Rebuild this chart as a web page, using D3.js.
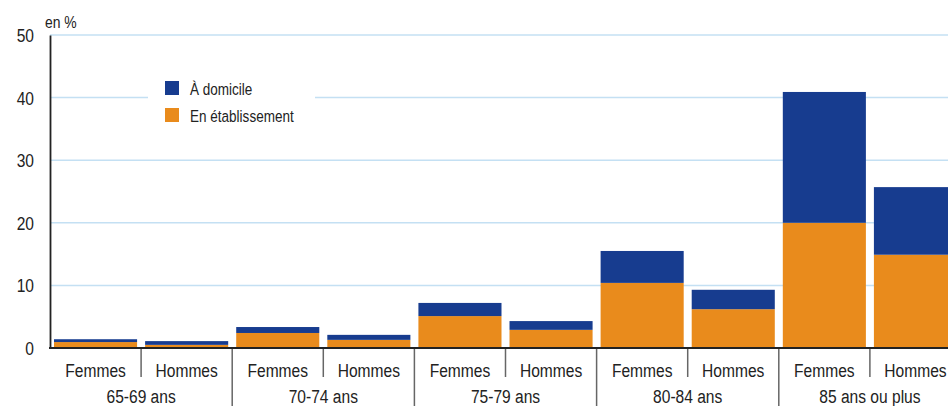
<!DOCTYPE html>
<html>
<head>
<meta charset="utf-8">
<script src="https://cdn.jsdelivr.net/npm/d3@7"></script>
<style>
  body { margin: 0; background: #fff; }
  svg { display: block; font-family: "Liberation Sans", Arial, sans-serif; }
</style>
</head>
<body>
<svg id="chart" width="948" height="406"></svg>
<script>
const groups = ["65-69 ans", "70-74 ans", "75-79 ans", "80-84 ans", "85 ans ou plus"];
const sexes = ["Femmes", "Hommes"];
// valeurs en %, ordre : groupe puis sexe
const etablissement = [0.95, 0.5, 2.4, 1.3, 5.1, 2.9, 10.4, 6.2, 20.0, 14.9];
const domicile = [0.45, 0.6, 0.95, 0.8, 2.1, 1.4, 5.1, 3.1, 20.9, 10.8];
const yTicks = [0, 10, 20, 30, 40, 50];

const colors = { domicile: "#173c8f", etab: "#e98b1c" };
const narrow = 0.82; // horizontal squeeze to mimic a condensed face

const data = [];
groups.forEach((g, i) => {
  sexes.forEach((s, j) => {
    const k = i * 2 + j;
    data.push({ key: g + "|" + s, group: g, sex: s, etab: etablissement[k], dom: domicile[k] });
  });
});

const config = {
  left: 50,
  top: 35,
  bottom: 348,
  groupWidth: 182.2
};

const svg = d3.select("#chart");

// condensed text helper
const label = (sel, x, y) =>
  sel.attr("transform", d => `translate(${typeof x === "function" ? x(d) : x},${y}) scale(${narrow},1)`);

const x = d3.scaleBand()
  .domain(data.map(d => d.key))
  .range([config.left, config.left + config.groupWidth * groups.length])
  .paddingInner(0.088)
  .paddingOuter(0.044);

const xGroup = d3.scaleBand()
  .domain(groups)
  .range([config.left, config.left + config.groupWidth * groups.length]);

const y = d3.scaleLinear().domain([0, 50]).range([config.bottom, config.top]);

// gridlines
svg.append("g")
  .selectAll("line")
  .data(yTicks.filter(d => d > 0))
  .join("line")
  .attr("x1", config.left)
  .attr("x2", 948)
  .attr("y1", d => y(d))
  .attr("y2", d => y(d))
  .attr("stroke", "#c4e0f3")
  .attr("stroke-width", 1.5);

// legend box (hides gridline)
const legend = svg.append("g");
legend.append("rect")
  .attr("x", 148).attr("y", 70).attr("width", 167).attr("height", 62)
  .attr("fill", "#fff");
const legendItems = [
  { label: "À domicile", color: colors.domicile },
  { label: "En établissement", color: colors.etab }
];
legendItems.forEach((d, i) => {
  legend.append("rect")
    .attr("x", 165).attr("y", 81 + i * 27)
    .attr("width", 14).attr("height", 14)
    .attr("fill", d.color);
  legend.append("text")
    .call(label, 190, 95 + i * 27)
    .attr("font-size", 16.5)
    .attr("fill", "#222")
    .text(d.label);
});

// bars
const bars = svg.append("g");
bars.selectAll("rect.etab")
  .data(data)
  .join("rect")
  .attr("class", "etab")
  .attr("x", d => x(d.key))
  .attr("width", x.bandwidth())
  .attr("y", d => y(d.etab))
  .attr("height", d => y(0) - y(d.etab))
  .attr("fill", colors.etab);
bars.selectAll("rect.dom")
  .data(data)
  .join("rect")
  .attr("class", "dom")
  .attr("x", d => x(d.key))
  .attr("width", x.bandwidth())
  .attr("y", d => y(d.etab + d.dom))
  .attr("height", d => y(d.etab) - y(d.etab + d.dom))
  .attr("fill", colors.domicile);

// y axis
const yAxis = d3.axisLeft(y).tickValues(yTicks).tickSize(0).tickPadding(16);
const gy = svg.append("g")
  .attr("transform", `translate(${config.left},0)`)
  .call(yAxis);
gy.select(".domain").attr("stroke", "#222").attr("stroke-width", 1.8);
gy.selectAll(".tick text")
  .attr("font-size", 19)
  .attr("font-family", "Liberation Sans, Arial, sans-serif")
  .attr("fill", "#222")
  .attr("x", -16 / narrow)
  .attr("dy", "0.34em")
  .attr("transform", `scale(${narrow},1)`);

svg.append("text")
  .call(label, 45, 28)
  .attr("font-size", 17)
  .attr("fill", "#222")
  .text("en %");

// x axis: sub-category ticks and labels
const gx = svg.append("g");
gx.selectAll("line.sub")
  .data(groups)
  .join("line")
  .attr("class", "sub")
  .attr("x1", d => xGroup(d) + xGroup.bandwidth() / 2)
  .attr("x2", d => xGroup(d) + xGroup.bandwidth() / 2)
  .attr("y1", config.bottom)
  .attr("y2", 377)
  .attr("stroke", "#666")
  .attr("stroke-width", 1.5);
gx.selectAll("line.sep")
  .data(groups.slice(1))
  .join("line")
  .attr("class", "sep")
  .attr("x1", d => xGroup(d))
  .attr("x2", d => xGroup(d))
  .attr("y1", config.bottom)
  .attr("y2", 406)
  .attr("stroke", "#666")
  .attr("stroke-width", 1.5);
gx.append("line")
  .attr("x1", config.left - 1).attr("x2", 948)
  .attr("y1", config.bottom).attr("y2", config.bottom)
  .attr("stroke", "#222").attr("stroke-width", 2);

gx.selectAll("text.sex")
  .data(data)
  .join("text")
  .attr("class", "sex")
  .call(label, d => x(d.key) + x.bandwidth() / 2, 377)
  .attr("text-anchor", "middle")
  .attr("font-size", 19)
  .attr("fill", "#222")
  .text(d => d.sex);
gx.selectAll("text.grp")
  .data(groups)
  .join("text")
  .attr("class", "grp")
  .call(label, d => xGroup(d) + xGroup.bandwidth() / 2, 403)
  .attr("text-anchor", "middle")
  .attr("font-size", 19)
  .attr("fill", "#222")
  .text(d => d);
</script>
</body>
</html>
